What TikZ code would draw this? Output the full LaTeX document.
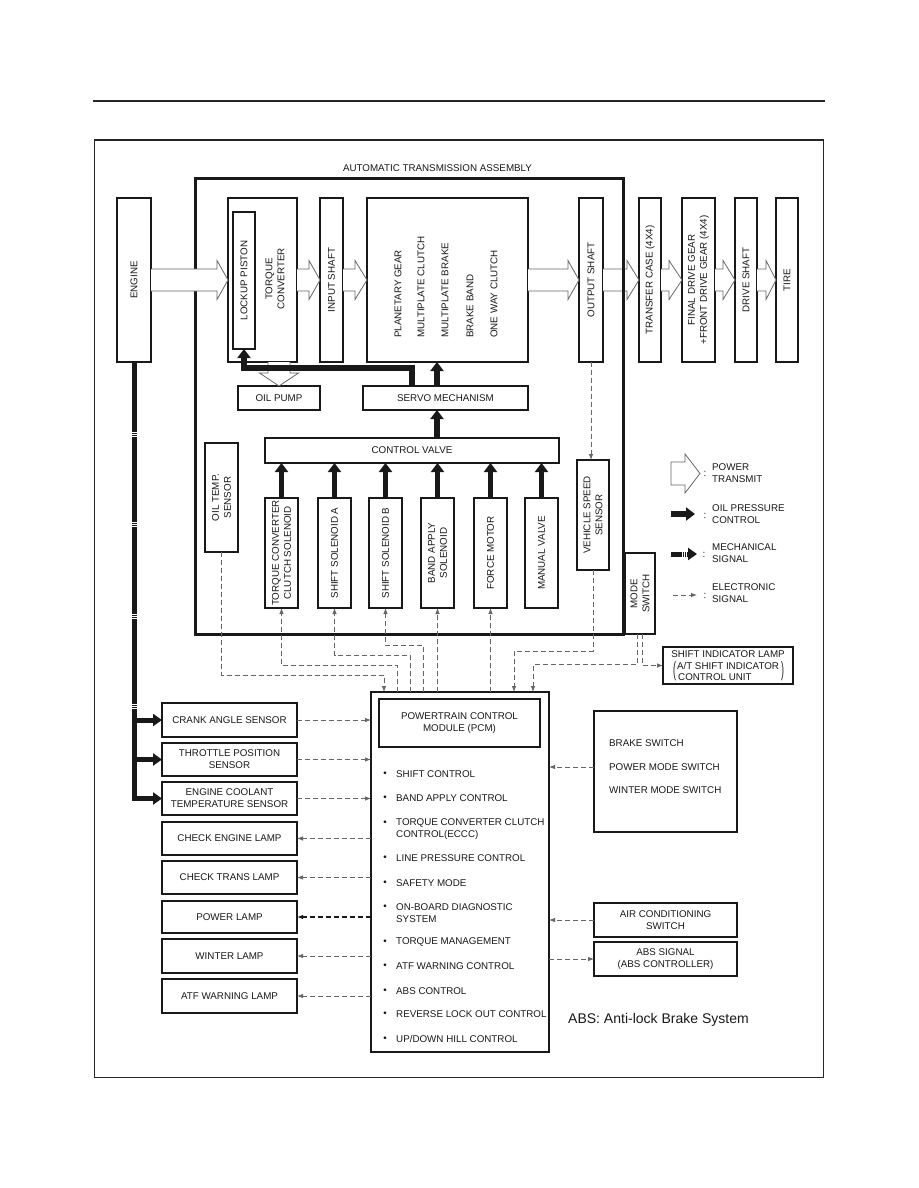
\documentclass[tikz,border=0pt]{standalone}
\usepackage{fontspec}
\setmainfont{Liberation Sans}
\usepackage{graphicx}
\usetikzlibrary{arrows.meta,calc}
\newcommand\fs{\fontsize{9.8}{12}\selectfont}
\tikzset{
 box/.style={draw=black!90, line width=1.3pt, inner sep=0pt, outer sep=0pt, fill=white, align=center, font=\fs, text=black!90},
 lbl/.style={inner sep=0pt, font=\fs, text=black!90, align=center},
 pw/.style={draw=black!60, line width=0.8pt, fill=white, line join=miter},
 oil/.style={line width=5.7pt, black!90, -{Triangle[length=9pt,width=13pt]}},
 mech/.style={line width=5pt, black!90, -{Triangle[length=9pt,width=12pt]}},
 sig/.style={draw=black!60, line width=0.8pt, dash pattern=on 5pt off 3pt, -{Latex[length=6pt,width=4.5pt]}},
 stripe/.style={draw=white, line width=0.7pt},
}
\newcommand\bx[7][]{%
 \pgfmathsetmacro\bxcx{(#3+#5)/2}%
 \pgfmathsetmacro\bxcy{(#4+#6)/2}%
 \pgfmathsetmacro\bxw{#5-#3}%
 \pgfmathsetmacro\bxh{#6-#4}%
 \node[box,minimum width=\bxw pt,minimum height=\bxh pt,#1] (#2) at (\bxcx,\bxcy) {#7};}
\newcommand\parrow[3]{%
 \path[pw] ($(#1)+(0,-11)$) -- ($(#2)+(-#3,-11)$) -- ($(#2)+(-#3,-19.5)$) -- (#2)
   -- ($(#2)+(-#3,19.5)$) -- ($(#2)+(-#3,11)$) -- ($(#1)+(0,11)$);}
\begin{document}
\begin{tikzpicture}[x=1pt,y=-1pt]
\useasboundingbox (0,0) rectangle (918,1188);
\fill[white] (0,0) rectangle (918,1188);
\draw[line width=1.4pt, black!85] (93,101) -- (825,101);
\draw[line width=1pt, black!85] (94,140) rectangle (823,1077);
\node[lbl] (title) at (437.5,168) {AUTOMATIC TRANSMISSION ASSEMBLY};

% transmission assembly
\bx[line width=3pt]{ta}{195}{178}{623}{634}{}
\bx{eng}{117}{198}{151}{362}{}
\node[lbl,rotate=90] at (eng) {ENGINE};
\bx{tc}{228}{198}{297}{362}{}
\bx{lp}{233}{212}{255}{349}{}
\node[lbl,rotate=90] at (lp) {LOCKUP PISTON};
\node[lbl,rotate=90] at (275,279) {TORQUE\\CONVERTER};
\bx{is}{320}{198}{343}{362}{}
\node[lbl,rotate=90] at (is) {INPUT SHAFT};
\bx{pg}{367}{198}{528}{362}{}
\node[lbl,rotate=90,anchor=west] at (398,338) {PLANETARY GEAR};
\node[lbl,rotate=90,anchor=west] at (421,338) {MULTIPLATE CLUTCH};
\node[lbl,rotate=90,anchor=west] at (445,338) {MULTIPLATE BRAKE};
\node[lbl,rotate=90,anchor=west] at (470,338) {BRAKE BAND};
\node[lbl,rotate=90,anchor=west] at (494,338) {ONE WAY CLUTCH};
\bx{os}{579}{198}{603}{362}{}
\node[lbl,rotate=90] at (os) {OUTPUT SHAFT};
\bx{tcase}{639}{198}{661}{362}{}
\node[lbl,rotate=90] at (tcase) {TRANSFER CASE (4X4)};
\bx{fd}{682}{198}{715}{362}{}
\node[lbl,rotate=90] at (fd) {FINAL DRIVE GEAR\\+FRONT DRIVE GEAR (4X4)};
\bx{ds}{735}{198}{757}{362}{}
\node[lbl,rotate=90] at (ds) {DRIVE SHAFT};
\bx{tire}{776}{198}{798}{362}{}
\node[lbl,rotate=90] at (tire) {TIRE};

\bx{op}{238}{386}{320}{410}{OIL PUMP}
\bx{servo}{363}{386}{528}{410}{SERVO MECHANISM}
\bx{cv}{265}{438}{559}{463}{CONTROL VALVE}
\bx{ots}{205}{443}{238}{552}{}
\node[lbl,rotate=90] at (ots) {OIL TEMP.\\SENSOR};
\bx{tcc}{265}{498}{298}{608}{}
\node[lbl,rotate=90] at (tcc) {TORQUE CONVERTER\\CLUTCH SOLENOID};
\bx{sa}{318}{498}{351}{608}{}
\node[lbl,rotate=90] at (sa) {SHIFT SOLENOID A};
\bx{sb}{369}{498}{402}{608}{}
\node[lbl,rotate=90] at (sb) {SHIFT SOLENOID B};
\bx{bas}{421}{498}{454}{608}{}
\node[lbl,rotate=90] at (bas) {BAND APPLY\\SOLENOID};
\bx{fm}{474}{498}{507}{608}{}
\node[lbl,rotate=90] at (fm) {FORCE MOTOR};
\bx{mv}{525}{498}{558}{608}{}
\node[lbl,rotate=90] at (mv) {MANUAL VALVE};
\bx{vss}{577}{460}{609}{570}{}
\node[lbl,rotate=90] at (vss) {VEHICLE SPEED\\SENSOR};
\bx{ms}{625}{553}{655}{634}{}
\node[lbl,rotate=90] at (ms) {MODE\\SWITCH};

% power transmit arrows
\parrow{eng.east}{tc.west}{11}
\parrow{tc.east}{is.west}{11}
\parrow{is.east}{pg.west}{12}
\parrow{pg.east}{os.west}{11}
\parrow{os.east}{tcase.west}{12}
\parrow{tcase.east}{fd.west}{13}
\parrow{fd.east}{ds.west}{12}
\parrow{ds.east}{tire.west}{10}
\path[pw] ($(op.north)+(-11,-24)$) -- ($(op.north)+(-11,-13)$) -- ($(op.north)+(-19.5,-13)$) -- (op.north)
  -- ($(op.north)+(19.5,-13)$) -- ($(op.north)+(11,-13)$) -- ($(op.north)+(11,-24)$);
\draw[line width=3pt, black!90] (ta.north east) -- (ta.south east);

% oil pressure
\draw[oil] ($(servo.north west)+(49,0)$) |- ($(lp.south)+(0,19)$) -- (lp.south);
\coordinate (sv2) at ($(servo.north west)+(74,0)$);
\draw[oil] (sv2) -- (sv2 |- pg.south);
\draw[oil] (cv.north -| sv2) -- (servo.south -| sv2);
\foreach \s in {tcc,sa,sb,bas,fm,mv}{
  \draw[oil] (\s.north) -- (\s.north |- cv.south);
}

% PCM
\bx{pcm}{371}{692}{549}{1052}{}
\bx{pcmh}{379}{699}{540}{747}{POWERTRAIN CONTROL\\MODULE (PCM)}
\foreach \yy/\itm in {774/{SHIFT CONTROL}, 798/{BAND APPLY CONTROL}, 858/{LINE PRESSURE CONTROL},
  883/{SAFETY MODE}, 942/{TORQUE MANAGEMENT}, 966/{ATF WARNING CONTROL}, 991/{ABS CONTROL},
  1014/{REVERSE LOCK OUT CONTROL}, 1039/{UP/DOWN HILL CONTROL}}{
  \node[lbl] at (385,\yy) {\textbullet};
  \node[lbl,anchor=west] at (396,\yy) {\itm};
}
\node[lbl] at (385,823) {\textbullet};
\node[lbl,anchor=west,align=left] at (396,829) {TORQUE CONVERTER CLUTCH\\CONTROL(ECCC)};
\node[lbl] at (385,907) {\textbullet};
\node[lbl,anchor=west,align=left] at (396,913) {ON-BOARD DIAGNOSTIC\\SYSTEM};

% left column
\bx{cas}{162}{703}{297}{737}{CRANK ANGLE SENSOR}
\bx{tps}{162}{743}{297}{776}{THROTTLE POSITION\\SENSOR}
\bx{ects}{162}{782}{297}{815}{ENGINE COOLANT\\TEMPERATURE SENSOR}
\bx{cel}{162}{822}{297}{855}{CHECK ENGINE LAMP}
\bx{ctl}{162}{861}{297}{894}{CHECK TRANS LAMP}
\bx{pl}{162}{901}{297}{933}{POWER LAMP}
\bx{wl}{162}{939}{297}{973}{WINTER LAMP}
\bx{atf}{162}{979}{297}{1013}{ATF WARNING LAMP}

% right column
\bx{bsw}{594}{711}{737}{832}{}
\node[lbl,anchor=west] at (609,743) {BRAKE SWITCH};
\node[lbl,anchor=west] at (609,767) {POWER MODE SWITCH};
\node[lbl,anchor=west] at (609,790) {WINTER MODE SWITCH};
\bx{acs}{594}{903}{737}{937}{AIR CONDITIONING\\SWITCH}
\bx{abs}{594}{942}{737}{976}{ABS SIGNAL\\(ABS CONTROLLER)}
\bx{sil}{663}{647}{793}{684}{}
\node[lbl] at (728,654) {SHIFT INDICATOR LAMP};
\node[lbl] at (728,666) {A/T SHIFT INDICATOR};
\node[lbl,anchor=west] at (678,677) {CONTROL UNIT};
\node[lbl] at (674.5,671.5) {\scalebox{0.9}[2.1]{(}};
\node[lbl] at (782.5,671.5) {\scalebox{0.9}[2.1]{)}};
\node[anchor=base west, inner sep=0pt, font=\fontsize{14}{16}\selectfont, text=black!90] (absnote) at (568,1023) {ABS: Anti-lock Brake System};

% mechanical signal
\draw[mech] (eng.south) |- (ects.west);
\draw[mech] (eng.south |- cas.west) -- (cas.west);
\draw[mech] (eng.south |- tps.west) -- (tps.west);
\foreach \yy in {432,522,614,704}{
  \foreach \dd in {0,2,4}{
    \draw[stripe] ($(eng.south |- 0,\yy)+(-4,\dd)$) -- ++(8,0);
  }
}

% electronic signals
\draw[sig] (os.south) -- (os.south |- vss.north);
\draw[sig] (ots.south) |- ($(pcm.north west)+(13,-17)$) -- ($(pcm.north west)+(13,0)$);
\draw[sig] ($(pcm.north west)+(26,0)$) |- ($(tcc.south)+(0,57)$) -- (tcc.south);
\draw[sig] ($(pcm.north west)+(39,0)$) |- ($(sa.south)+(0,47)$) -- (sa.south);
\draw[sig] ($(pcm.north west)+(52,0)$) |- ($(sb.south)+(0,37)$) -- (sb.south);
\draw[sig] (bas.south |- pcm.north) -- (bas.south);
\draw[sig] (fm.south |- pcm.north) -- (fm.south);
\draw[sig] (vss.south) |- ($(pcm.north west)+(143,-41)$) -- ($(pcm.north west)+(143,0)$);
\draw[sig] ($(ms.south)+(-2.5,0)$) |- ($(pcm.north west)+(162,-28)$) -- ($(pcm.north west)+(162,0)$);
\draw[sig] ($(ms.south)+(2.5,0)$) |- (sil.west);
\draw[sig] (cas.east) -- (cas.east -| pcm.west);
\draw[sig] (tps.east) -- (tps.east -| pcm.west);
\draw[sig] (ects.east) -- (ects.east -| pcm.west);
\draw[sig] (cel.east -| pcm.west) -- (cel.east);
\draw[sig] (ctl.east -| pcm.west) -- (ctl.east);
\draw[sig, draw=black!90, line width=1.1pt] (pl.east -| pcm.west) -- (pl.east);
\draw[sig] (wl.east -| pcm.west) -- (wl.east);
\draw[sig] (atf.east -| pcm.west) -- (atf.east);
\coordinate (bswo) at ($(bsw.west)+(0,-4.5)$);
\draw[sig] (bswo) -- (bswo -| pcm.east);
\draw[sig] (acs.west) -- (acs.west -| pcm.east);
\draw[sig] (abs.west -| pcm.east) -- (abs.west);

% legend
\draw[pw] (671,462) -- (685,462) -- (685,454) -- (700,473.5) -- (685,493) -- (685,485) -- (671,485) -- cycle;
\node[lbl] at (705,474) {:};
\node[lbl,anchor=west,align=left] at (712,473) {POWER\\TRANSMIT};
\draw[oil] (671,514) -- (695,514);
\node[lbl] at (705,516) {:};
\node[lbl,anchor=west,align=left] at (712,514) {OIL PRESSURE\\CONTROL};
\draw[mech] (671,554) -- (697,554);
\foreach \xx in {682,684,686}{\draw[stripe] (\xx,550) -- (\xx,558);}
\node[lbl] at (704,555) {:};
\node[lbl,anchor=west,align=left] at (712,553.5) {MECHANICAL\\SIGNAL};
\draw[sig] (673,595) -- (697,595);
\node[lbl] at (705,596) {:};
\node[lbl,anchor=west,align=left] at (712,593.5) {ELECTRONIC\\SIGNAL};
\end{tikzpicture}
\end{document}
